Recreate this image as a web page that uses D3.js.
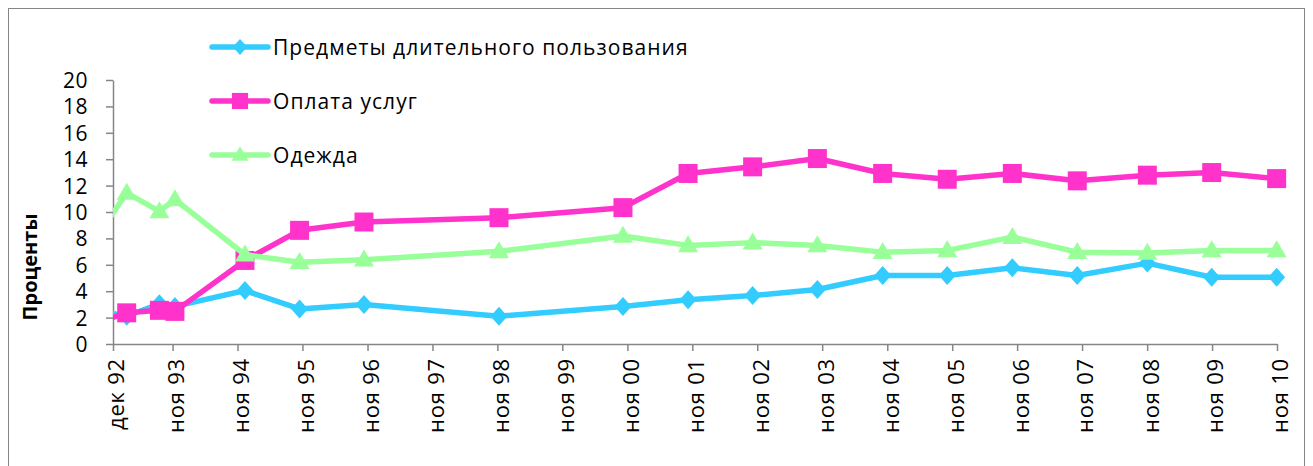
<!DOCTYPE html>
<html><head><meta charset="utf-8">
<script src="https://cdn.jsdelivr.net/npm/d3@7"></script>
<style>
body{margin:0;background:#fff}
svg{display:block}
text{font-family:"Open Sans",sans-serif;fill:#000}
</style>
</head><body>
<svg id="c" width="1313" height="466"></svg>
<script>
// ---- data ----
const tickDates = ["1992-12-01","1993-11-01","1994-11-01","1995-11-01","1996-11-01","1997-11-01","1998-11-01","1999-11-01","2000-11-01","2001-11-01","2002-11-01","2003-11-01","2004-11-01","2005-11-01","2006-11-01","2007-11-01","2008-11-01","2009-11-01","2010-11-01"];
const tickLabels = ["дек 92","ноя 93","ноя 94","ноя 95","ноя 96","ноя 97","ноя 98","ноя 99","ноя 00","ноя 01","ноя 02","ноя 03","ноя 04","ноя 05","ноя 06","ноя 07","ноя 08","ноя 09","ноя 10"];
const pointDates = ["1992-09-01","1993-02-16","1993-08-19","1993-11-14","1994-12-13","1995-10-16","1996-10-12","1998-11-10","2000-10-07","2001-10-08","2002-10-06","2003-10-05","2004-10-06","2005-10-04","2006-10-05","2007-10-05","2008-11-02","2009-10-30","2010-10-30"];
const durables = [2.55, 2.1, 3.05, 2.85, 4.05, 2.66, 2.99, 2.11, 2.84, 3.35, 3.67, 4.13, 5.19, 5.19, 5.78, 5.19, 6.13, 5.06, 5.06];
const services = [1.6, 2.36, 2.55, 2.47, 6.33, 8.61, 9.24, 9.57, 10.33, 12.92, 13.42, 14.05, 12.92, 12.48, 12.92, 12.36, 12.79, 12.99, 12.53];
const clothing = [8.1, 11.45, 10.05, 10.96, 6.76, 6.2, 6.38, 7.02, 8.18, 7.47, 7.68, 7.47, 6.96, 7.09, 8.1, 6.96, 6.89, 7.09, 7.09];
const seriesNames = ["Предметы длительного пользования","Оплата услуг","Одежда"];
const yTicks = [0,2,4,6,8,10,12,14,16,18,20];
const yTitle = "Проценты";

// ---- setup ----
const parse = d3.utcParse("%Y-%m-%d");
const svg = d3.select("#c");
const axisColor = "#868686";
const plotL = 113, plotR = 1277, plotT = 80, plotB = 344;

svg.append("rect").attr("x",8.5).attr("y",8.5).attr("width",1296).attr("height",480)
  .attr("fill","none").attr("stroke",axisColor).attr("stroke-width",1);

const x = d3.scaleUtc().domain([parse(tickDates[0]), parse(tickDates[tickDates.length-1])]).range([plotL, plotR]);
const y = d3.scaleLinear().domain([0,20]).range([plotB, plotT]);

// y axis
const ya = svg.append("g").attr("transform",`translate(${plotL},0)`)
  .call(d3.axisLeft(y).tickValues(yTicks).tickSize(7).tickSizeOuter(0).tickPadding(18));
ya.select(".domain").attr("stroke",axisColor).attr("stroke-width",1.5);
ya.selectAll(".tick line").attr("stroke",axisColor).attr("stroke-width",1.5);
ya.selectAll(".tick text").attr("font-size",21).attr("dy","0.36em").style("font-family","'Open Sans',sans-serif")
  .style("letter-spacing","0.5px");

// x axis
const xa = svg.append("g").attr("transform",`translate(0,${plotB})`)
  .call(d3.axisBottom(x).tickValues(tickDates.map(parse)).tickFormat((d,i)=>tickLabels[i]).tickSize(7).tickSizeOuter(0));
xa.select(".domain").attr("stroke",axisColor).attr("stroke-width",1.5);
xa.selectAll(".tick line").attr("stroke",axisColor).attr("stroke-width",1.5);
xa.selectAll(".tick text").attr("font-size",22).style("font-family","'Open Sans',sans-serif")
  .style("letter-spacing","0.8px")
  .attr("transform","rotate(-90)").attr("x",-14).attr("y",3).attr("dy","0.36em").style("text-anchor","end");

// y title
svg.append("text").attr("transform","translate(37,267) rotate(-90)").attr("text-anchor","middle")
  .attr("font-size",20).attr("font-weight","bold").text(yTitle);

// markers
const diamond = {draw(ctx, s){ const w=8.5,h=9.5; ctx.moveTo(0,-h); ctx.lineTo(w,0); ctx.lineTo(0,h); ctx.lineTo(-w,0); ctx.closePath(); }};
const square = {draw(ctx, s){ const a=9.5; ctx.rect(-a,-a,2*a,2*a); }};
const triangle = {draw(ctx, s){ const w=10,h=17; ctx.moveTo(0,-h*0.6); ctx.lineTo(w,h*0.4); ctx.lineTo(-w,h*0.4); ctx.closePath(); }};

const series = [
  {name: seriesNames[0], values: durables, color:"#33CCFF", sym: diamond},
  {name: seriesNames[1], values: services, color:"#FF33CC", sym: square},
  {name: seriesNames[2], values: clothing, color:"#99FF99", sym: triangle}
];

svg.append("clipPath").attr("id","clip").append("rect").attr("x",plotL).attr("y",0).attr("width",1313-plotL).attr("height",466);

const line = d3.line().x(d=>x(d.date)).y(d=>y(d.v));
const start = parse(tickDates[0]);

series.forEach(s=>{
  const pts = pointDates.map((d,i)=>({date:parse(d), v:s.values[i]}));
  const g = svg.append("g");
  g.append("path").datum(pts).attr("d",line).attr("fill","none").attr("stroke",s.color)
    .attr("stroke-width",5.5).attr("stroke-linejoin","round").attr("clip-path","url(#clip)");
  g.selectAll("path.m").data(pts.filter(p=>p.date>=start)).join("path").attr("class","m")
    .attr("d", d3.symbol().type(s.sym)()).attr("transform",p=>`translate(${x(p.date)},${y(p.v)})`)
    .attr("fill",s.color);
});

// legend
const legY = [47,101,155];
series.forEach((s,i)=>{
  const g = svg.append("g").attr("transform",`translate(0,${legY[i]})`);
  g.append("line").attr("x1",212).attr("x2",268).attr("y1",0).attr("y2",0).attr("stroke",s.color)
    .attr("stroke-width",5.5).attr("stroke-linecap","round");
  g.append("path").attr("d",d3.symbol().type(s.sym)()).attr("transform","translate(240,0) scale(0.85)").attr("fill",s.color);
  g.append("text").attr("x",273).attr("y",0).attr("dy","0.36em").attr("font-size",21)
    .style("letter-spacing","1.05px").text(s.name);
});
</script>
</body></html>
